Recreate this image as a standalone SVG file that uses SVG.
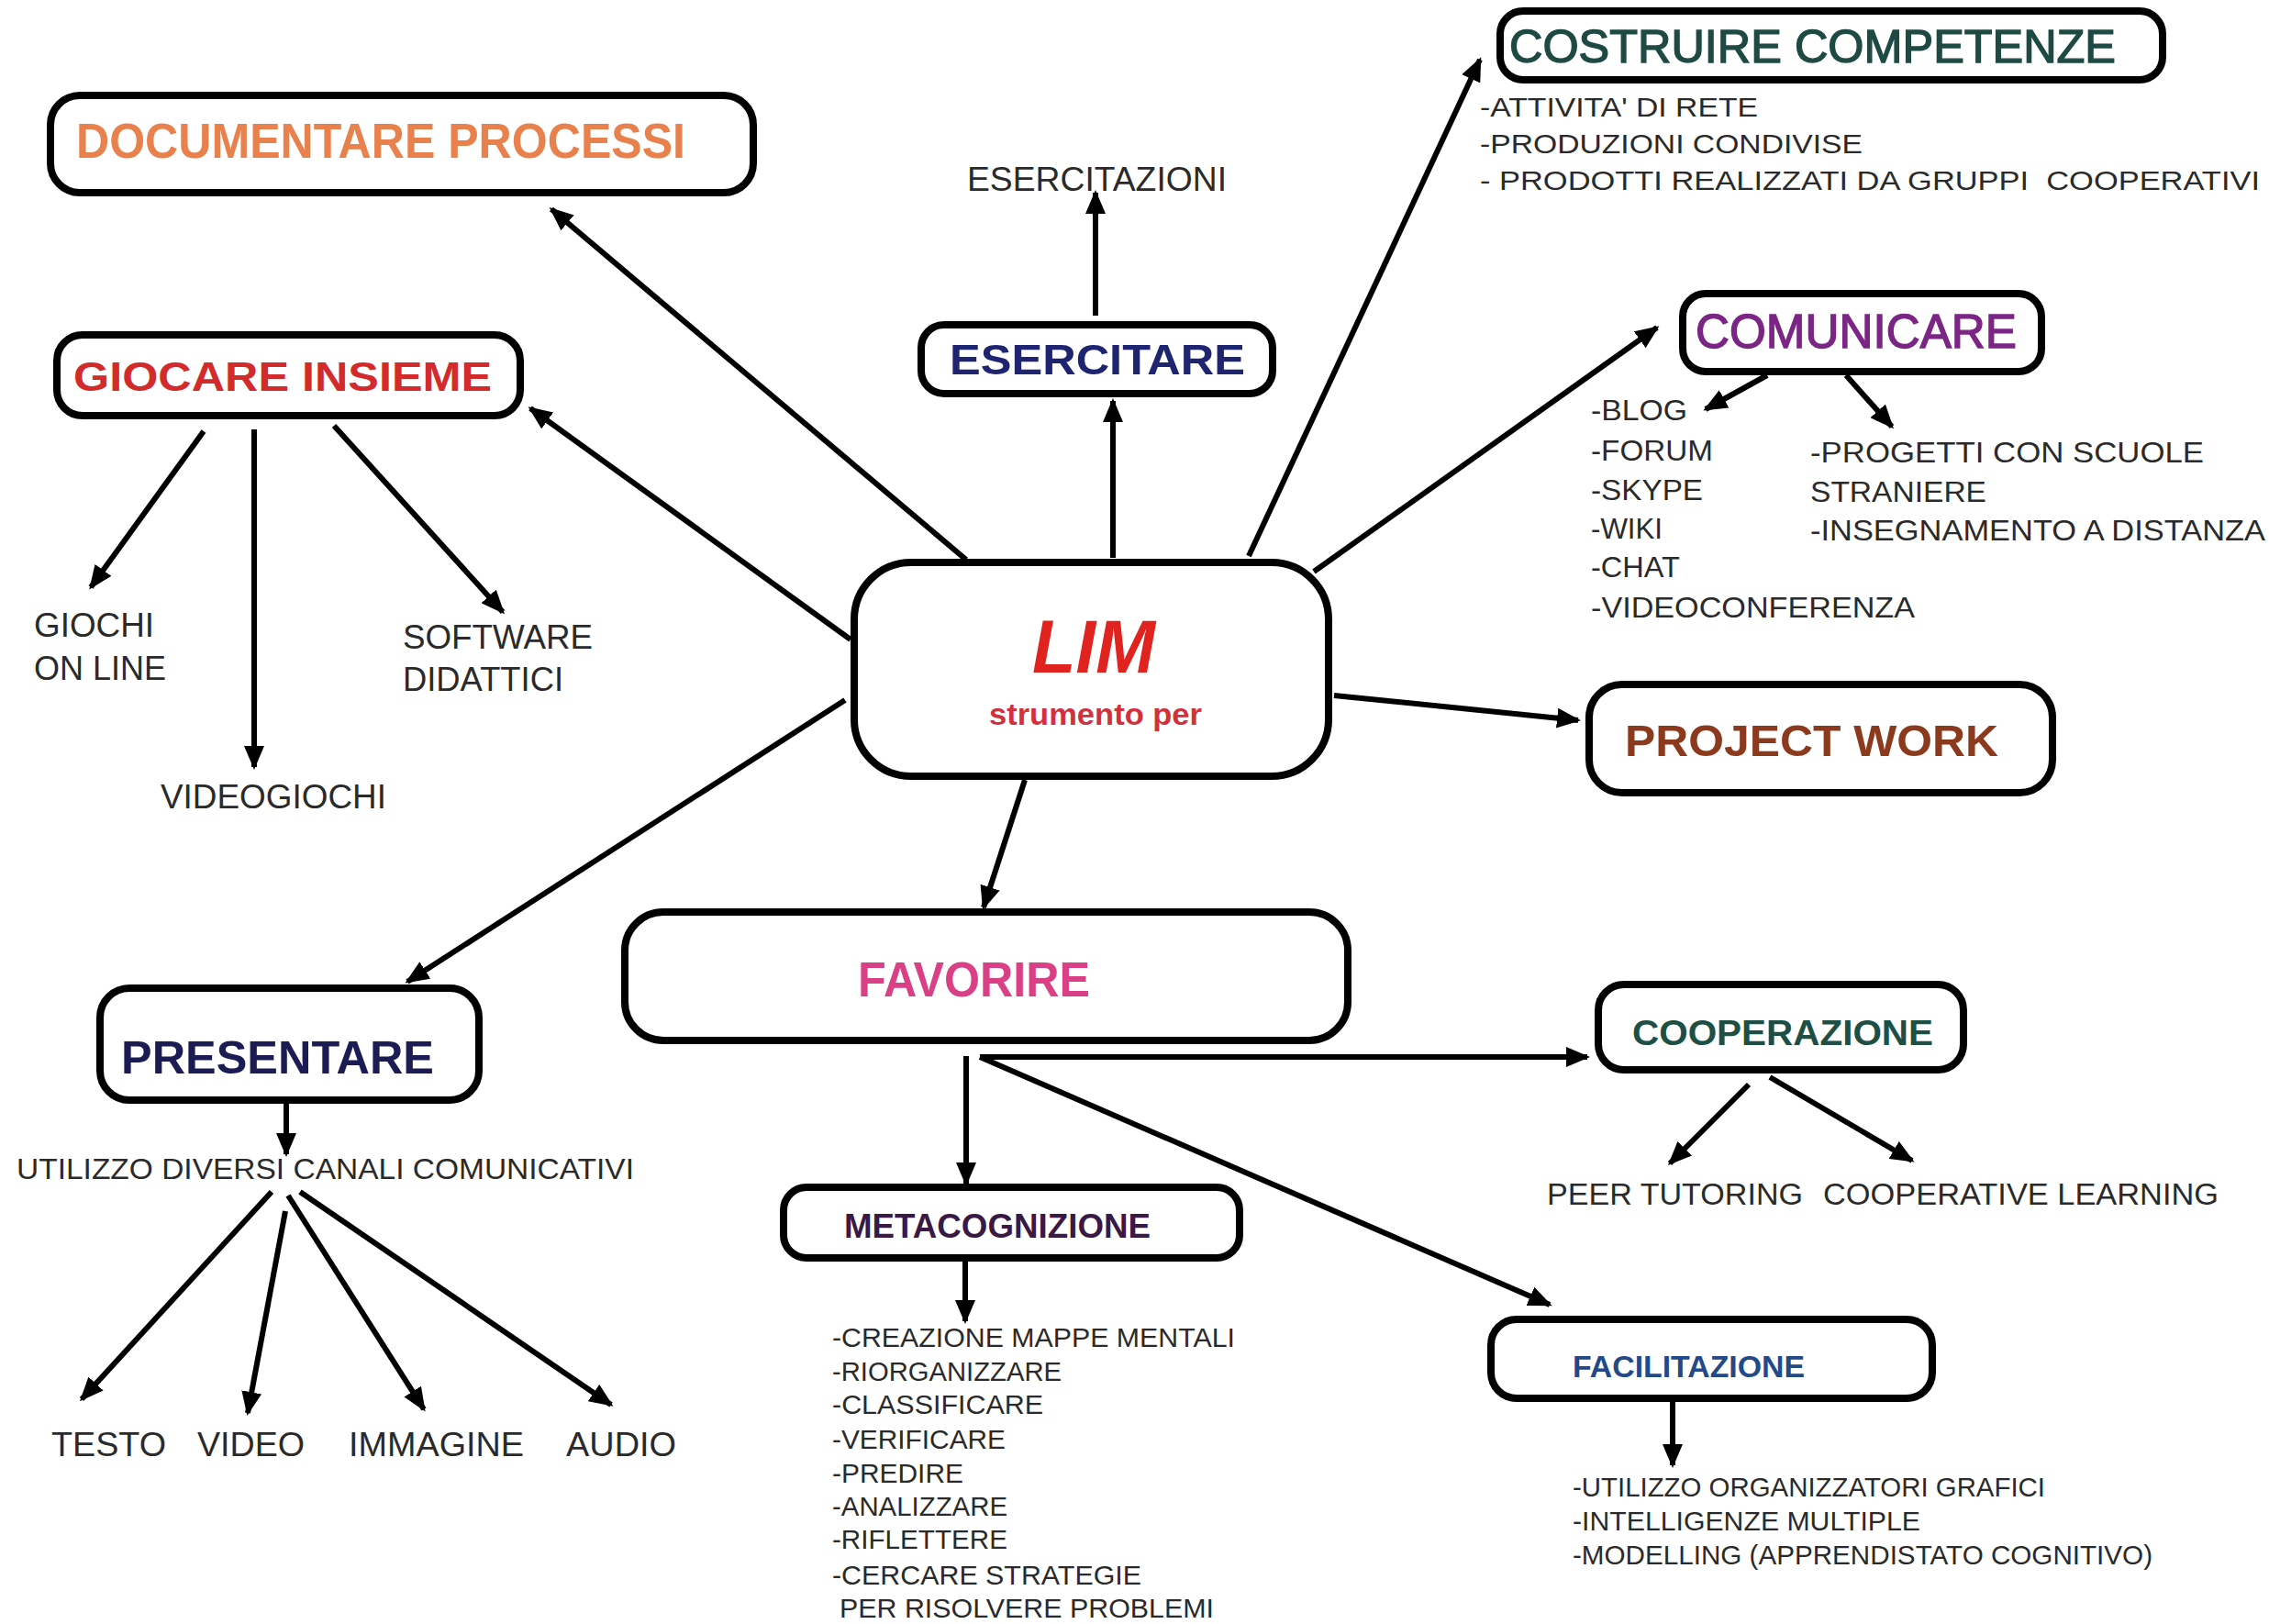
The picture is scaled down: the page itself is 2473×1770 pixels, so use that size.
<svg xmlns="http://www.w3.org/2000/svg" width="2473" height="1770" viewBox="0 0 2473 1770">
<defs>
<marker id="ah" markerUnits="userSpaceOnUse" markerWidth="26" markerHeight="22" refX="23" refY="11" orient="auto">
<path d="M0,0 L26,11 L0,22 z" fill="#000"/>
</marker>
<style>
.box{fill:#fff;stroke:#000;stroke-width:8}
.c{fill:none;stroke:#000;stroke-width:6;marker-end:url(#ah)}
.t{font-family:"Liberation Sans",Arial,sans-serif;font-weight:bold}
.m{font-family:"Liberation Sans",Arial,sans-serif;font-weight:normal;stroke-width:1.4}
.b{font-family:"Liberation Sans",Arial,sans-serif;fill:#2a2a2a}
</style>
</defs>
<rect width="2473" height="1770" fill="#fff"/>
<g id="connectors">
<line class="c" x1="1053" y1="610" x2="601" y2="228"/>
<line class="c" x1="927" y1="697" x2="578" y2="445"/>
<line class="c" x1="1213" y1="608" x2="1213" y2="437"/>
<line class="c" x1="1194" y1="344" x2="1194" y2="210"/>
<line class="c" x1="1361" y1="606" x2="1613" y2="65"/>
<line class="c" x1="1432" y1="623" x2="1806" y2="357"/>
<line class="c" x1="1454" y1="758" x2="1720" y2="785"/>
<line class="c" x1="1117" y1="850" x2="1072" y2="989"/>
<line class="c" x1="921" y1="763" x2="444" y2="1070"/>
<line class="c" x1="222" y1="470" x2="99" y2="640"/>
<line class="c" x1="277" y1="468" x2="277" y2="836"/>
<line class="c" x1="364" y1="464" x2="548" y2="667"/>
<line class="c" x1="1926" y1="409" x2="1859" y2="446"/>
<line class="c" x1="2012" y1="409" x2="2062" y2="465"/>
<line class="c" x1="312" y1="1199" x2="312" y2="1258"/>
<line class="c" x1="296" y1="1299" x2="89" y2="1525"/>
<line class="c" x1="311" y1="1320" x2="270" y2="1540"/>
<line class="c" x1="314" y1="1303" x2="462" y2="1536"/>
<line class="c" x1="327" y1="1299" x2="666" y2="1531"/>
<line class="c" x1="1053" y1="1151" x2="1053" y2="1290"/>
<line class="c" x1="1068" y1="1152" x2="1730" y2="1152"/>
<line class="c" x1="1068" y1="1152" x2="1689" y2="1422"/>
<line class="c" x1="1052" y1="1373" x2="1052" y2="1440"/>
<line class="c" x1="1906" y1="1182" x2="1820" y2="1268"/>
<line class="c" x1="1929" y1="1174" x2="2084" y2="1265"/>
<line class="c" x1="1823" y1="1528" x2="1823" y2="1597"/>
</g>
<g id="documentare">
<rect class="box" x="55" y="104" width="766" height="106" rx="32"/>
<text class="t" x="83" y="172" font-size="54" fill="#E8814C" textLength="664" lengthAdjust="spacingAndGlyphs">DOCUMENTARE PROCESSI</text>
</g>
<g id="giocare">
<rect class="box" x="62" y="365" width="505" height="88" rx="28"/>
<text class="t" x="80" y="426" font-size="45" fill="#D32B2B" textLength="456" lengthAdjust="spacingAndGlyphs">GIOCARE INSIEME</text>
<text class="b" x="37" y="694" font-size="36" textLength="131" lengthAdjust="spacingAndGlyphs">GIOCHI</text>
<text class="b" x="37" y="741" font-size="36" textLength="144" lengthAdjust="spacingAndGlyphs">ON LINE</text>
<text class="b" x="439" y="707" font-size="36" textLength="207" lengthAdjust="spacingAndGlyphs">SOFTWARE</text>
<text class="b" x="439" y="753" font-size="36" textLength="175" lengthAdjust="spacingAndGlyphs">DIDATTICI</text>
<text class="b" x="175" y="881" font-size="36" textLength="246" lengthAdjust="spacingAndGlyphs">VIDEOGIOCHI</text>
</g>
<g id="esercitare">
<rect class="box" x="1004" y="354" width="383" height="75" rx="25"/>
<text class="t" x="1035" y="408" font-size="46" fill="#1E2470" textLength="322" lengthAdjust="spacingAndGlyphs">ESERCITARE</text>
<text class="b" x="1054" y="208" font-size="36" textLength="283" lengthAdjust="spacingAndGlyphs">ESERCITAZIONI</text>
</g>
<g id="costruire">
<rect class="box" x="1635" y="12" width="722" height="75" rx="25"/>
<text class="m" x="1645" y="68" font-size="50" fill="#1F4A44" stroke="#1F4A44" textLength="661" lengthAdjust="spacingAndGlyphs">COSTRUIRE COMPETENZE</text>
<text class="b" x="1613" y="127" font-size="29" textLength="303" lengthAdjust="spacingAndGlyphs">-ATTIVITA' DI RETE</text>
<text class="b" x="1613" y="167" font-size="29" textLength="417" lengthAdjust="spacingAndGlyphs">-PRODUZIONI CONDIVISE</text>
<text class="b" x="1613" y="207" font-size="29" textLength="850" lengthAdjust="spacingAndGlyphs" xml:space="preserve">- PRODOTTI REALIZZATI DA GRUPPI  COOPERATIVI</text>
</g>
<g id="comunicare">
<rect class="box" x="1834" y="320" width="391" height="85" rx="25"/>
<text class="m" x="1848" y="379" font-size="51" fill="#7B2585" stroke="#7B2585" textLength="350" lengthAdjust="spacingAndGlyphs">COMUNICARE</text>
<text class="b" x="1734" y="458" font-size="32" textLength="105" lengthAdjust="spacingAndGlyphs">-BLOG</text>
<text class="b" x="1734" y="502" font-size="32" textLength="133" lengthAdjust="spacingAndGlyphs">-FORUM</text>
<text class="b" x="1734" y="545" font-size="32" textLength="122" lengthAdjust="spacingAndGlyphs">-SKYPE</text>
<text class="b" x="1734" y="587" font-size="32" textLength="78" lengthAdjust="spacingAndGlyphs">-WIKI</text>
<text class="b" x="1734" y="629" font-size="32" textLength="97" lengthAdjust="spacingAndGlyphs">-CHAT</text>
<text class="b" x="1734" y="673" font-size="32" textLength="353" lengthAdjust="spacingAndGlyphs">-VIDEOCONFERENZA</text>
<text class="b" x="1973" y="504" font-size="32" textLength="429" lengthAdjust="spacingAndGlyphs">-PROGETTI CON SCUOLE</text>
<text class="b" x="1973" y="547" font-size="32" textLength="192" lengthAdjust="spacingAndGlyphs">STRANIERE</text>
<text class="b" x="1973" y="589" font-size="32" textLength="496" lengthAdjust="spacingAndGlyphs">-INSEGNAMENTO A DISTANZA</text>
</g>
<g id="lim">
<rect class="box" x="931" y="613" width="517" height="233" rx="62"/>
<text class="t" x="1125" y="733" font-size="81" font-style="italic" fill="#E0231E" textLength="134" lengthAdjust="spacingAndGlyphs">LIM</text>
<text class="t" x="1078" y="790" font-size="34" fill="#D3303E" textLength="232" lengthAdjust="spacingAndGlyphs">strumento per</text>
</g>
<g id="projectwork">
<rect class="box" x="1732" y="746" width="505" height="118" rx="36"/>
<text class="t" x="1771" y="824" font-size="48" fill="#8B3A1E" textLength="407" lengthAdjust="spacingAndGlyphs">PROJECT WORK</text>
</g>
<g id="favorire">
<rect class="box" x="681" y="994" width="788" height="140" rx="42"/>
<text class="t" x="935" y="1086" font-size="53" fill="#D94085" textLength="253" lengthAdjust="spacingAndGlyphs">FAVORIRE</text>
</g>
<g id="presentare">
<rect class="box" x="109" y="1077" width="413" height="122" rx="32"/>
<text class="t" x="132" y="1170" font-size="50" fill="#1C1C55" textLength="341" lengthAdjust="spacingAndGlyphs">PRESENTARE</text>
<text class="b" x="18" y="1285" font-size="32" textLength="673" lengthAdjust="spacingAndGlyphs">UTILIZZO DIVERSI CANALI COMUNICATIVI</text>
<text class="b" x="56" y="1587" font-size="37" textLength="125" lengthAdjust="spacingAndGlyphs">TESTO</text>
<text class="b" x="215" y="1587" font-size="37" textLength="117" lengthAdjust="spacingAndGlyphs">VIDEO</text>
<text class="b" x="380" y="1587" font-size="37" textLength="191" lengthAdjust="spacingAndGlyphs">IMMAGINE</text>
<text class="b" x="617" y="1587" font-size="37" textLength="120" lengthAdjust="spacingAndGlyphs">AUDIO</text>
</g>
<g id="metacognizione">
<rect class="box" x="854" y="1294" width="497" height="77" rx="25"/>
<text class="t" x="920" y="1349" font-size="36" fill="#3A1A45" textLength="334" lengthAdjust="spacingAndGlyphs">METACOGNIZIONE</text>
<text class="b" x="907" y="1468" font-size="29" textLength="439" lengthAdjust="spacingAndGlyphs">-CREAZIONE MAPPE MENTALI</text>
<text class="b" x="907" y="1505" font-size="29" textLength="250" lengthAdjust="spacingAndGlyphs">-RIORGANIZZARE</text>
<text class="b" x="907" y="1541" font-size="29" textLength="230" lengthAdjust="spacingAndGlyphs">-CLASSIFICARE</text>
<text class="b" x="907" y="1579" font-size="29" textLength="189" lengthAdjust="spacingAndGlyphs">-VERIFICARE</text>
<text class="b" x="907" y="1616" font-size="29" textLength="143" lengthAdjust="spacingAndGlyphs">-PREDIRE</text>
<text class="b" x="907" y="1652" font-size="29" textLength="191" lengthAdjust="spacingAndGlyphs">-ANALIZZARE</text>
<text class="b" x="907" y="1688" font-size="29" textLength="191" lengthAdjust="spacingAndGlyphs">-RIFLETTERE</text>
<text class="b" x="907" y="1727" font-size="29" textLength="337" lengthAdjust="spacingAndGlyphs">-CERCARE STRATEGIE</text>
<text class="b" x="915" y="1763" font-size="29" textLength="408" lengthAdjust="spacingAndGlyphs">PER RISOLVERE PROBLEMI</text>
</g>
<g id="cooperazione">
<rect class="box" x="1742" y="1073" width="398" height="93" rx="28"/>
<text class="t" x="1779" y="1139" font-size="38" fill="#1E4F45" textLength="328" lengthAdjust="spacingAndGlyphs">COOPERAZIONE</text>
<text class="b" x="1686" y="1313" font-size="34" textLength="279" lengthAdjust="spacingAndGlyphs">PEER TUTORING</text>
<text class="b" x="1987" y="1313" font-size="34" textLength="431" lengthAdjust="spacingAndGlyphs">COOPERATIVE LEARNING</text>
</g>
<g id="facilitazione">
<rect class="box" x="1625" y="1438" width="481" height="86" rx="28"/>
<text class="t" x="1714" y="1501" font-size="34" fill="#234A88" textLength="253" lengthAdjust="spacingAndGlyphs">FACILITAZIONE</text>
<text class="b" x="1714" y="1631" font-size="29" textLength="515" lengthAdjust="spacingAndGlyphs">-UTILIZZO ORGANIZZATORI GRAFICI</text>
<text class="b" x="1714" y="1668" font-size="29" textLength="379" lengthAdjust="spacingAndGlyphs">-INTELLIGENZE MULTIPLE</text>
<text class="b" x="1714" y="1705" font-size="29" textLength="632" lengthAdjust="spacingAndGlyphs">-MODELLING (APPRENDISTATO COGNITIVO)</text>
</g>
</svg>
